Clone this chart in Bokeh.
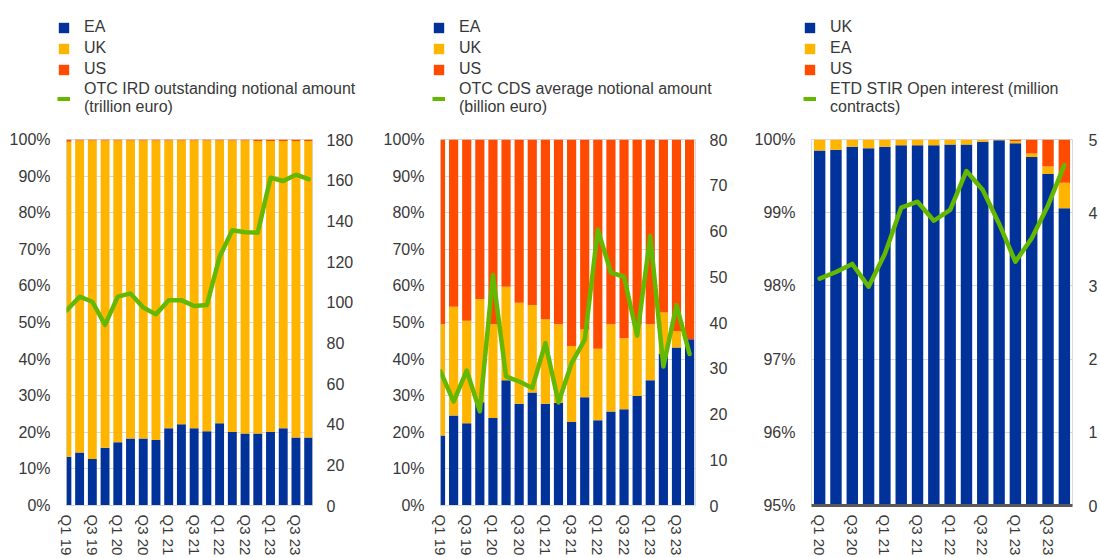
from bokeh.plotting import figure
from bokeh.models import (LinearAxis, Range1d, FixedTicker, Legend, LegendItem,
                          PrintfTickFormatter, ColumnDataSource)
from bokeh.layouts import row, column
from bokeh.embed import file_html
from bokeh.resources import INLINE

# ---------------- data ----------------
quarters_a = ["Q1 19", "Q2 19", "Q3 19", "Q4 19", "Q1 20", "Q2 20", "Q3 20", "Q4 20",
              "Q1 21", "Q2 21", "Q3 21", "Q4 21", "Q1 22", "Q2 22", "Q3 22", "Q4 22",
              "Q1 23", "Q2 23", "Q3 23", "Q4 23"]
quarters_b = ["Q1 20", "Q2 20", "Q3 20", "Q4 20", "Q1 21", "Q2 21", "Q3 21", "Q4 21",
              "Q1 22", "Q2 22", "Q3 22", "Q4 22", "Q1 23", "Q2 23", "Q3 23", "Q4 23"]

# Panel 1: OTC IRD (shares, %)
ird_ea = [13.3, 14.5, 12.7, 15.8, 17.3, 18.3, 18.3, 17.9, 21.1, 22.2,
          21.1, 20.3, 22.5, 20.1, 19.7, 19.7, 20.1, 21.1, 18.6, 18.6]
ird_uk = [86.1, 85.2, 87.0, 83.9, 82.4, 81.4, 81.4, 81.8, 78.6, 77.5,
          78.6, 79.4, 77.2, 79.6, 80.0, 79.9, 79.5, 78.5, 81.0, 81.0]
ird_us = [0.6, 0.3, 0.3, 0.3, 0.3, 0.3, 0.3, 0.3, 0.3, 0.3,
          0.3, 0.3, 0.3, 0.3, 0.3, 0.4, 0.4, 0.4, 0.4, 0.4]
ird_amount = [96.1, 102.7, 100.2, 88.8, 102.7, 104.3, 97.4, 94.0, 101.0, 101.0,
              98.1, 98.6, 122.3, 135.4, 134.4, 134.2, 161.2, 159.6, 162.7, 160.5]

# Panel 2: OTC CDS (shares, %)
cds_ea = [19.1, 24.6, 22.5, 28.2, 23.9, 34.2, 27.8, 30.9, 27.8, 28.0,
          22.8, 29.6, 23.3, 25.7, 26.3, 29.9, 34.2, 41.4, 43.2, 45.4]
cds_uk = [30.4, 29.7, 28.0, 28.2, 25.6, 25.6, 27.6, 23.9, 23.1, 21.5,
          20.8, 18.5, 19.5, 23.8, 19.4, 19.6, 15.3, 11.3, 4.5, 0.0]
cds_us = [50.5, 45.7, 49.5, 43.6, 50.5, 40.2, 44.6, 45.2, 49.1, 50.5,
          56.4, 51.9, 57.2, 50.5, 54.3, 50.5, 50.5, 47.3, 52.3, 54.6]
cds_amount = [29.3, 22.7, 29.5, 20.6, 50.4, 28.2, 27.1, 25.7, 35.5, 22.5,
              31.1, 36.2, 60.3, 50.9, 50.0, 37.1, 58.9, 30.4, 43.8, 33.1]

# Panel 3: ETD STIR (shares, %)
stir_uk = [99.85, 99.86, 99.90, 99.88, 99.90, 99.92, 99.92, 99.92,
           99.93, 99.93, 99.97, 99.99, 99.95, 99.76, 99.53, 99.06]
stir_ea = [0.15, 0.14, 0.10, 0.12, 0.10, 0.08, 0.08, 0.08,
           0.07, 0.07, 0.03, 0.01, 0.03, 0.05, 0.10, 0.35]
stir_us = [0.0, 0.0, 0.0, 0.0, 0.0, 0.0, 0.0, 0.0,
           0.0, 0.0, 0.0, 0.0, 0.02, 0.19, 0.37, 0.59]
stir_oi = [3.10, 3.19, 3.30, 2.99, 3.44, 4.07, 4.15, 3.89,
           4.04, 4.57, 4.31, 3.85, 3.33, 3.65, 4.10, 4.65]

BLUE = "#003299"
YELLOW = "#FFB400"
RED = "#FF4B00"
GREEN = "#65B800"
TEXT = "#383838"
GRID = "#d9d9d9"
FONT = "Liberation Sans"
FS = "16px"
FS_X = "15px"

LEG_H = 129
PLOT_H = 429
TOP = 10
BOTTOM = 52


def make_legend(width, left, names, series, colors, line_vals, line_label):
    # legend-only figure: the same series are drawn, but far outside its view
    lf = figure(width=width, height=LEG_H, output_backend="svg", toolbar_location=None,
                x_range=Range1d(-100, -99), y_range=Range1d(-100, -99),
                x_axis_type=None, y_axis_type=None,
                min_border_left=left, min_border_top=17,
                min_border_right=0, min_border_bottom=0)
    lf.outline_line_color = None
    lf.xgrid.grid_line_color = None
    lf.ygrid.grid_line_color = None
    idx = list(range(len(line_vals)))
    items = []
    for n, s, c in zip(names, series, colors):
        r = lf.vbar(x=idx, top=s, bottom=0, width=0.7, color=c, line_color=None)
        items.append(LegendItem(label=n, renderers=[r]))
    lr = lf.line(x=idx, y=line_vals, line_color=GREEN, line_width=4)
    items.append(LegendItem(label=line_label, renderers=[lr]))
    leg = Legend(items=items, location="top_left",
                 orientation="vertical", padding=0, margin=0,
                 spacing=1, label_height=20, label_standoff=14,
                 glyph_width=13, glyph_height=13,
                 label_text_font=FONT, label_text_font_size=FS,
                 label_text_color=TEXT, label_text_line_height=1.75,
                 border_line_color=None, background_fill_alpha=0.0)
    lf.add_layout(leg, "center")
    return lf


def make_panel(width, border_left, border_right, labels, names, series, colors,
               line_vals, x_range, y_range, y_ticks, r_range, r_ticks,
               dark_axis=False, r_standoff=8):
    p = figure(width=width, height=PLOT_H, output_backend="svg", toolbar_location=None,
               x_range=Range1d(*x_range), y_range=Range1d(*y_range),
               min_border_left=border_left, min_border_right=border_right,
               min_border_top=TOP, min_border_bottom=BOTTOM)
    p.extra_y_ranges = {"right": Range1d(*r_range)}
    p.outline_line_color = GRID
    p.background_fill_color = "white"
    p.border_fill_color = "white"

    idx = list(range(len(labels)))
    data = {"x": idx}
    for n, s in zip(names, series):
        data[n] = s
    src = ColumnDataSource(data)
    p.vbar_stack(names, x="x", width=0.7, color=colors, line_color=None, source=src)
    p.line(idx, line_vals, y_range_name="right", line_color=GREEN,
           line_width=4.5, line_join="round", line_cap="round")

    p.yaxis.ticker = FixedTicker(ticks=y_ticks)
    p.yaxis.formatter = PrintfTickFormatter(format="%d%%")
    p.yaxis.axis_line_color = None
    p.yaxis.major_tick_line_color = None
    p.yaxis.minor_tick_line_color = None
    p.yaxis.major_label_standoff = 10
    p.yaxis.major_label_text_font = FONT
    p.yaxis.major_label_text_font_size = FS
    p.yaxis.major_label_text_color = TEXT

    ra = LinearAxis(y_range_name="right", ticker=FixedTicker(ticks=r_ticks))
    ra.axis_line_color = None
    ra.major_tick_line_color = None
    ra.minor_tick_line_color = None
    ra.major_label_standoff = r_standoff
    ra.major_label_text_font = FONT
    ra.major_label_text_font_size = FS
    ra.major_label_text_color = TEXT
    p.add_layout(ra, "right")

    xt = idx[::2]
    p.xaxis.ticker = FixedTicker(ticks=xt)
    p.xaxis.major_label_overrides = {i: labels[i] for i in xt}
    p.xaxis.major_label_orientation = "vertical"
    p.xaxis.major_tick_line_color = None
    p.xaxis.minor_tick_line_color = None
    p.xaxis.major_label_standoff = 3
    p.xaxis.major_label_text_font = FONT
    p.xaxis.major_label_text_font_size = FS_X
    p.xaxis.major_label_text_color = TEXT
    if dark_axis:
        p.xaxis.axis_line_color = "#595959"
        p.xaxis.axis_line_width = 3
    else:
        p.xaxis.axis_line_color = GRID
        p.xaxis.axis_line_width = 1

    p.xgrid.grid_line_color = None
    p.ygrid.grid_line_color = GRID
    p.ygrid.grid_line_width = 1
    return p


names_a = ["EA", "UK", "US"]
names_b = ["UK", "EA", "US"]
colors = [BLUE, YELLOW, RED]

l1 = make_legend(378, 57, names_a, [ird_ea, ird_uk, ird_us], colors, ird_amount,
                 "OTC IRD outstanding notional amount\n(trillion euro)")
p1 = make_panel(378, 66, 66, quarters_a, names_a,
                [ird_ea, ird_uk, ird_us], colors, ird_amount,
                (-0.03, 19.3), (0, 100), list(range(0, 101, 10)),
                (0, 180), list(range(0, 181, 20)))

l2 = make_legend(370, 54, names_a, [cds_ea, cds_uk, cds_us], colors, cds_amount,
                 "OTC CDS average notional amount\n(billion euro)")
p2 = make_panel(370, 62, 53, quarters_a, names_a,
                [cds_ea, cds_uk, cds_us], colors, cds_amount,
                (0.0, 19.45), (0, 100), list(range(0, 101, 10)),
                (0, 80), list(range(0, 81, 10)))

l3 = make_legend(352, 55, names_b, [stir_uk, stir_ea, stir_us], colors, stir_oi,
                 "ETD STIR Open interest (million\ncontracts)")
p3 = make_panel(352, 63, 22, quarters_b, names_b,
                [stir_uk, stir_ea, stir_us], colors, stir_oi,
                (-0.5, 15.5), (95, 100), list(range(95, 101, 1)),
                (0, 5), list(range(0, 6, 1)), dark_axis=True, r_standoff=10)

layout = column(row(l1, l2, l3, spacing=0), row(p1, p2, p3, spacing=0), spacing=0)

open("out.html", "w").write(file_html(layout, INLINE))
